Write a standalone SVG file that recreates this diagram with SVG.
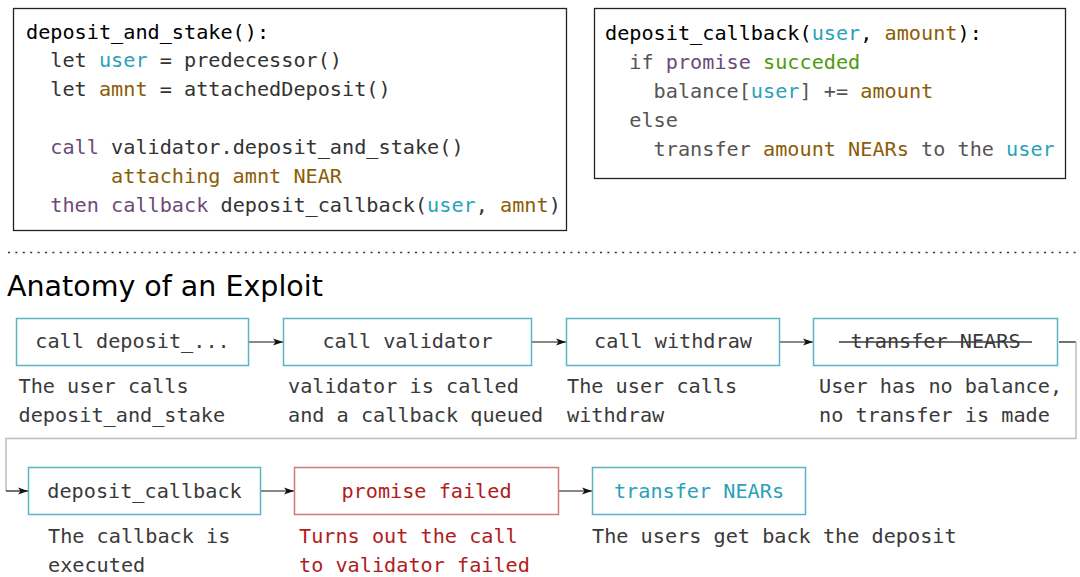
<svg xmlns="http://www.w3.org/2000/svg" width="1080" height="577" viewBox="0 0 1080 577">
<defs>
<marker id="arr" viewBox="0 0 10 10" refX="10" refY="5" markerWidth="10" markerHeight="10" markerUnits="userSpaceOnUse" orient="auto">
<path d="M0,1.5 L10,5 L0,8.5 L2.5,5 Z" fill="#111"/>
</marker>
<style>
.mono{font-family:"DejaVu Sans Mono","Liberation Mono",monospace;font-size:20.2px}
.code{fill:#333}
.code2{fill:#555}
.blk{fill:#000}
.u{fill:#2aa1bb}
.b{fill:#8b5d06}
.p{fill:#6d4a7a}
.g{fill:#4d9a0e}
.codebox{fill:#fff;stroke:#222;stroke-width:1.3}
.node{fill:#fff;stroke:#5ab4c8;stroke-width:1.5}
.nodeRed{fill:#fff;stroke:#d27a7a;stroke-width:1.5}
.lbl{fill:#3a3a3a}
.desc{fill:#3a3a3a}
.red{fill:#b01c1c}
.edge{fill:none;stroke:#111;stroke-width:1.2}
.loop{fill:none;stroke:#bdbdbd;stroke-width:1.5}
</style>
</defs>
<rect width="1080" height="577" fill="#fff"/>

<g id="code-deposit-and-stake">
<rect class="codebox" x="13.5" y="8.5" width="553" height="222"/>
<text class="mono" xml:space="preserve" x="26" y="38.5"><tspan class="blk">deposit_and_stake():</tspan></text>
<text class="mono code" xml:space="preserve" x="26" y="67">  let <tspan class="u">user</tspan> = predecessor()</text>
<text class="mono code" xml:space="preserve" x="26" y="96">  let <tspan class="b">amnt</tspan> = attachedDeposit()</text>
<text class="mono code" xml:space="preserve" x="26" y="154">  <tspan class="p">call</tspan> validator.deposit_and_stake()</text>
<text class="mono b" xml:space="preserve" x="26" y="183">       attaching amnt NEAR</text>
<text class="mono code" xml:space="preserve" x="26" y="212">  <tspan class="p">then callback</tspan> deposit_callback(<tspan class="u">user</tspan>, <tspan class="b">amnt</tspan>)</text>
</g>

<g id="code-deposit-callback">
<rect class="codebox" x="594.5" y="8.5" width="471" height="170"/>
<text class="mono" xml:space="preserve" x="605" y="39.5"><tspan class="blk">deposit_callback(</tspan><tspan class="u">user</tspan><tspan class="blk">, </tspan><tspan class="b">amount</tspan><tspan class="blk">):</tspan></text>
<text class="mono code2" xml:space="preserve" x="605" y="68.5">  if <tspan class="p">promise</tspan> <tspan class="g">succeded</tspan></text>
<text class="mono code2" xml:space="preserve" x="605" y="97.5">    balance[<tspan class="u">user</tspan>] += <tspan class="b">amount</tspan></text>
<text class="mono code2" xml:space="preserve" x="605" y="126.5">  else</text>
<text class="mono code2" xml:space="preserve" x="605" y="155.5">    transfer <tspan class="b">amount NEARs</tspan> to the <tspan class="u">user</tspan></text>
</g>

<line x1="8" y1="252.5" x2="1080" y2="252.5" stroke="#333" stroke-width="1.3" stroke-dasharray="2 5.4"/>

<text id="title" x="7" y="296" font-family="DejaVu Sans, Liberation Sans, sans-serif" font-size="28.5" fill="#000">Anatomy of an Exploit</text>

<g id="connectors">
<line class="edge" x1="249" y1="342" x2="283" y2="342" marker-end="url(#arr)"/>
<line class="edge" x1="532" y1="342" x2="566" y2="342" marker-end="url(#arr)"/>
<line class="edge" x1="780" y1="342" x2="813" y2="342" marker-end="url(#arr)"/>
<line class="edge" x1="1059" y1="342" x2="1076" y2="342"/>
<polyline class="loop" points="1076,342 1076,438.5 6,438.5 6,491"/>
<line class="edge" x1="6" y1="491" x2="28" y2="491" marker-end="url(#arr)"/>
<line class="edge" x1="261" y1="491" x2="294" y2="491" marker-end="url(#arr)"/>
<line class="edge" x1="559" y1="491" x2="592" y2="491" marker-end="url(#arr)"/>
</g>

<g id="n1">
<rect class="node" x="16.5" y="318.5" width="232" height="47"/>
<text class="mono lbl" x="132.5" y="348" text-anchor="middle">call deposit_...</text>
<text class="mono desc" x="18.5" y="393">The user calls</text>
<text class="mono desc" x="18.5" y="421.5">deposit_and_stake</text>
</g>

<g id="n2">
<rect class="node" x="283.5" y="318.5" width="248" height="47"/>
<text class="mono lbl" x="407.5" y="348" text-anchor="middle">call validator</text>
<text class="mono desc" x="288" y="393">validator is called</text>
<text class="mono desc" x="288" y="421.5">and a callback queued</text>
</g>

<g id="n3">
<rect class="node" x="566.5" y="318.5" width="213" height="47"/>
<text class="mono lbl" x="673" y="348" text-anchor="middle">call withdraw</text>
<text class="mono desc" x="567" y="393">The user calls</text>
<text class="mono desc" x="567" y="421.5">withdraw</text>
</g>

<g id="n4">
<rect class="node" x="813.5" y="318.5" width="244" height="47"/>
<text class="mono lbl" x="935.5" y="348" text-anchor="middle">transfer NEARS</text>
<line x1="839" y1="342" x2="1032" y2="342" stroke="#3a3a3a" stroke-width="1.5"/>
<text class="mono desc" x="819" y="393">User has no balance,</text>
<text class="mono desc" x="819" y="421.5">no transfer is made</text>
</g>

<g id="n5">
<rect class="node" x="28.5" y="467.5" width="232" height="47"/>
<text class="mono lbl" x="144.5" y="497.5" text-anchor="middle">deposit_callback</text>
<text class="mono desc" x="48" y="543">The callback is</text>
<text class="mono desc" x="48" y="572">executed</text>
</g>

<g id="n6">
<rect class="nodeRed" x="294.5" y="467.5" width="264" height="47"/>
<text class="mono red" x="426.5" y="497.5" text-anchor="middle">promise failed</text>
<text class="mono red" x="299" y="543">Turns out the call</text>
<text class="mono red" x="299" y="572">to validator failed</text>
</g>

<g id="n7">
<rect class="node" x="592.5" y="467.5" width="213" height="47"/>
<text class="mono u" x="699" y="497.5" text-anchor="middle">transfer NEARs</text>
<text class="mono desc" x="592" y="543">The users get back the deposit</text>
</g>
</svg>
